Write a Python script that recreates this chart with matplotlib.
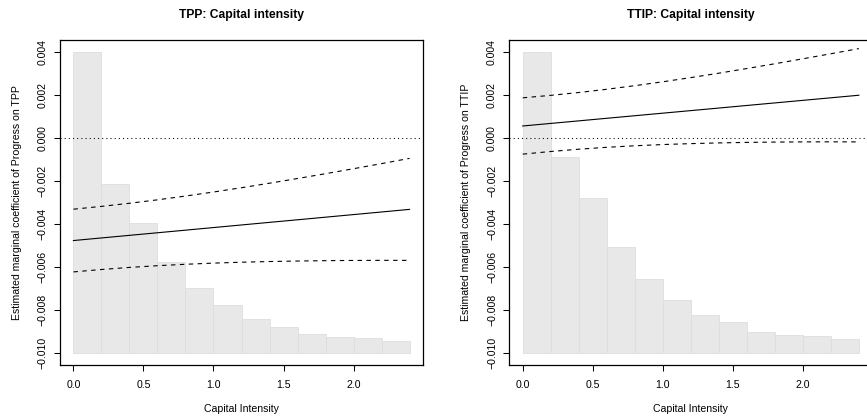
import matplotlib
matplotlib.use("Agg")
import matplotlib.pyplot as plt
import numpy as np

plt.rcParams['font.family'] = ['Liberation Sans', 'DejaVu Sans']

# ---- data -----------------------------------------------------------
bin_edges = [0.0, 0.2, 0.4, 0.6, 0.8, 1.0, 1.2, 1.4, 1.6, 1.8, 2.0, 2.2, 2.4]
hist_base = -0.010

tpp_hist_top = [0.0040, -0.00214, -0.00395, -0.00575, -0.00696, -0.00778,
                -0.00842, -0.00879, -0.00913, -0.00924, -0.00930, -0.00944]
ttip_hist_top = [0.0040, -0.00088, -0.00279, -0.00507, -0.00657, -0.00755,
                 -0.00823, -0.00856, -0.00902, -0.00916, -0.00921, -0.00935]

x_grid = [0.0, 0.2, 0.4, 0.6, 0.8, 1.0, 1.2, 1.4, 1.6, 1.8, 2.0, 2.2, 2.4]

tpp_est = [-0.004770, -0.004649, -0.004528, -0.004408, -0.004287, -0.004166, -0.004045,
           -0.003924, -0.003804, -0.003683, -0.003562, -0.003441, -0.003320]
tpp_upper = [-0.003311, -0.003181, -0.003036, -0.002876, -0.002700, -0.002512, -0.002312,
             -0.002102, -0.001885, -0.001660, -0.001428, -0.001191, -0.000947]
tpp_lower = [-0.006229, -0.006117, -0.006020, -0.005940, -0.005874, -0.005820, -0.005778,
             -0.005746, -0.005723, -0.005706, -0.005696, -0.005691, -0.005693]

ttip_est = [0.000560, 0.000679, 0.000798, 0.000918, 0.001037, 0.001156, 0.001275,
            0.001394, 0.001514, 0.001633, 0.001752, 0.001871, 0.001990]
ttip_upper = [0.001870, 0.001985, 0.002117, 0.002268, 0.002435, 0.002616, 0.002811,
              0.003016, 0.003232, 0.003455, 0.003685, 0.003920, 0.004160]
ttip_lower = [-0.000750, -0.000627, -0.000521, -0.000432, -0.000361, -0.000304, -0.000261,
              -0.000228, -0.000204, -0.000189, -0.000181, -0.000178, -0.000180]

x_ticks = [0.0, 0.5, 1.0, 1.5, 2.0]
x_ticklabels = ["0.0", "0.5", "1.0", "1.5", "2.0"]
y_ticks = [-0.010, -0.008, -0.006, -0.004, -0.002, 0.000, 0.002, 0.004]
y_ticklabels = ["\u22120.010", "\u22120.008", "\u22120.006", "\u22120.004",
                "\u22120.002", "0.000", "0.002", "0.004"]

panels = [
    ("TPP: Capital intensity", "Estimated marginal coefficient of Progress on TPP",
     tpp_hist_top, tpp_est, tpp_upper, tpp_lower),
    ("TTIP: Capital intensity", "Estimated marginal coefficient of Progress on TTIP",
     ttip_hist_top, ttip_est, ttip_upper, ttip_lower),
]

# ---- figure ---------------------------------------------------------
W, H = 867, 418
fig = plt.figure(figsize=(W / 100, H / 100), dpi=100)

ax_px = [(60, 40, 363, 325), (509.3, 40, 363, 325)]  # left, top, width, height in px

fs = 7.6
for (title, ylabel, htop, est, up, lo), (l, t, w, h) in zip(panels, ax_px):
    ax = fig.add_axes([l / W, (H - t - h) / H, w / W, h / H])
    lefts = bin_edges[:-1]
    widths = np.diff(bin_edges)
    heights = np.array(htop) - hist_base
    ax.bar(lefts, heights, width=widths, bottom=hist_base, align='edge',
           facecolor='#e8e8e8', edgecolor='#dedede', linewidth=0.6, zorder=1)
    ax.axhline(0, color='black', linewidth=0.75, linestyle=(0, (1, 3)), zorder=2)
    ax.plot(x_grid, est, color='black', linewidth=0.8, zorder=3)
    ax.plot(x_grid, up, color='black', linewidth=0.8, linestyle=(0, (4, 4)), zorder=3)
    ax.plot(x_grid, lo, color='black', linewidth=0.8, linestyle=(0, (4, 4)), zorder=3)

    ax.set_xlim(-0.096, 2.496)
    ax.set_ylim(-0.01056, 0.00456)
    ax.set_xticks(x_ticks)
    ax.set_xticklabels(x_ticklabels)
    ax.set_yticks(y_ticks)
    ax.set_yticklabels(y_ticklabels, rotation=90, va='center')
    ax.tick_params(axis='both', direction='out', length=4.3, width=0.75,
                   labelsize=fs, color='black')
    ax.tick_params(axis='x', pad=6.3)
    ax.tick_params(axis='y', pad=4.5)
    for s in ax.spines.values():
        s.set_linewidth(0.9)
    ax.set_title(title, fontsize=8.75, fontweight='bold', pad=0,
                 y=1 + 25 / h, va='center')
    ax.set_xlabel("Capital Intensity", fontsize=fs, labelpad=0)
    ax.set_ylabel(ylabel, fontsize=fs, labelpad=0)
    ax.xaxis.set_label_coords(0.5, -(409 - 365) / h)
    ax.yaxis.set_label_coords(-43.3 / w, 0.5)
    ax.xaxis.label.set_va('center')
    ax.yaxis.label.set_va('center')

fig.savefig("out.png", dpi=100)
